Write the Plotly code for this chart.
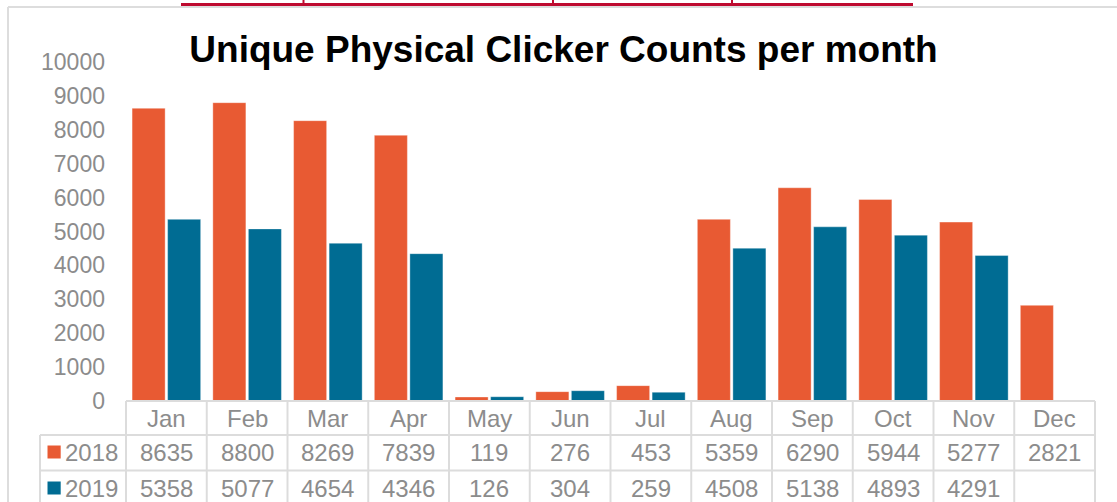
import plotly.graph_objects as go

# ---- data ----
months = ["Jan", "Feb", "Mar", "Apr", "May", "Jun", "Jul", "Aug", "Sep", "Oct", "Nov", "Dec"]
series_names = ["2018", "2019"]
v2018 = [8635, 8800, 8269, 7839, 119, 276, 453, 5359, 6290, 5944, 5277, 2821]
v2019 = [5358, 5077, 4654, 4346, 126, 304, 259, 4508, 5138, 4893, 4291, None]
y_ticks = [0, 1000, 2000, 3000, 4000, 5000, 6000, 7000, 8000, 9000, 10000]
title_text = "Unique Physical Clicker Counts per month"

# ---- style ----
W, H = 1117, 502
ML, MR, MT, MB = 126, 22, 62, 101
PW, PH = W - ML - MR, H - MT - MB
C2018 = "#E85A33"
C2019 = "#006C93"
GRAY_TXT = "#8c8c8c"
GRID = "#dcdcdc"
FONT = "Liberation Sans, Arial, sans-serif"


def py(pix):
    """pixel y (from top) -> paper y"""
    return (H - MB - pix) / PH


def px(pix):
    """pixel x (from left) -> paper x"""
    return (pix - ML) / PW


fig = go.Figure()
bar_line = dict(width=1, color="rgba(255,255,255,0.35)")
fig.add_trace(go.Bar(name=series_names[0], x=months, y=v2018, marker=dict(color=C2018, line=bar_line)))
fig.add_trace(go.Bar(name=series_names[1], x=months, y=v2019, marker=dict(color=C2019, line=bar_line)))

shapes = []
ann = []

# table grid lines
line = dict(color=GRID, width=2)
shapes.append(dict(type="line", xref="paper", yref="paper", x0=0, x1=1, y0=py(401), y1=py(401), line=line))
for yy in (435, 470.5):
    shapes.append(dict(type="line", xref="paper", yref="paper", x0=px(40), x1=1, y0=py(yy), y1=py(yy), line=line))
for i in range(1, len(months)):
    shapes.append(dict(type="line", xref="x", yref="paper", x0=i - 0.5, x1=i - 0.5,
                       y0=py(401), y1=py(H + 5), line=line))
for xx in (0, 1):
    shapes.append(dict(type="line", xref="paper", yref="paper", x0=xx, x1=xx, y0=py(401), y1=py(H + 5), line=line))
shapes.append(dict(type="line", xref="paper", yref="paper", x0=px(40), x1=px(40), y0=py(435), y1=py(H + 5), line=line))

# month labels and values
rows = [(v2018, 452), (v2019, 488)]
for i, m in enumerate(months):
    ann.append(dict(xref="x", yref="paper", x=m, y=py(418), text=m, showarrow=False,
                    font=dict(family=FONT, size=24, color=GRAY_TXT), xanchor="center", yanchor="middle"))
    for vals, yc in rows:
        v = vals[i]
        ann.append(dict(xref="x", yref="paper", x=m, y=py(yc), text="" if v is None else str(v),
                        showarrow=False, font=dict(family=FONT, size=24, color=GRAY_TXT),
                        xanchor="center", yanchor="middle"))

# row headers with colour keys
for name, col, (_, yc) in zip(series_names, (C2018, C2019), rows):
    shapes.append(dict(type="rect", xref="paper", yref="paper", x0=px(47.5), x1=px(60.7),
                       y0=py(yc + 6.5), y1=py(yc - 6.5), fillcolor=col, line=dict(width=0)))
    ann.append(dict(xref="paper", yref="paper", x=px(63), y=py(yc), text=name, showarrow=False,
                    font=dict(family=FONT, size=24, color=GRAY_TXT), xanchor="left", yanchor="middle"))

# outer frame
shapes.append(dict(type="line", xref="paper", yref="paper", x0=px(8), x1=px(W + 5), y0=py(7), y1=py(7),
                   line=dict(color="#dddddd", width=2)))
shapes.append(dict(type="line", xref="paper", yref="paper", x0=px(8), x1=px(8), y0=py(7), y1=py(H + 5),
                   line=dict(color="#dddddd", width=2)))
# red header line at very top
RED = "#BE0A2F"
shapes.append(dict(type="line", xref="paper", yref="paper", x0=px(181), x1=px(913), y0=py(4.5), y1=py(4.5),
                   line=dict(color=RED, width=3)))
for xx in (303.5, 553, 732):
    shapes.append(dict(type="line", xref="paper", yref="paper", x0=px(xx), x1=px(xx), y0=py(-1), y1=py(4),
                       line=dict(color=RED, width=2)))

fig.update_layout(
    width=W, height=H,
    margin=dict(l=ML, r=MR, t=MT, b=MB, pad=0),
    paper_bgcolor="white", plot_bgcolor="white",
    barmode="group", bargap=0.12, bargroupgap=0.07,
    showlegend=False,
    title=dict(text=title_text, x=563.5 / W, xref="container", xanchor="center",
               y=1 - 49 / H, yref="container", yanchor="middle",
               font=dict(family=FONT, size=37, color="black", weight="bold")),
    xaxis=dict(showticklabels=False, showline=False, showgrid=False, zeroline=False, ticks=""),
    yaxis=dict(range=[0, 10000], tickvals=y_ticks, ticktext=[str(v) for v in y_ticks],
               showgrid=False, zeroline=False, showline=False,
               ticks="", ticklabelstandoff=20,
               tickfont=dict(family=FONT, size=23, color=GRAY_TXT)),
    shapes=shapes,
    annotations=ann,
)

fig.write_html("out.html", config={"displayModeBar": False},
               post_script="document.body.style.margin='0';document.body.style.overflow='hidden';")
